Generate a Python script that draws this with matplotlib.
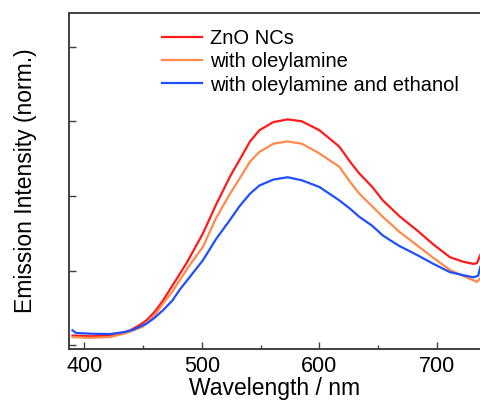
import numpy as np
import matplotlib.pyplot as plt

plt.rcParams['font.family'] = ['Liberation Sans', 'DejaVu Sans']

# wavelength (nm) and normalised emission
wl_red = [390, 405, 422, 432, 439, 446, 453, 460, 467, 475, 487, 494, 501, 512, 524, 532, 541, 549, 561, 573,
          585, 600, 617, 626, 634, 645, 654, 668, 683, 697, 711, 722, 731, 734, 737]
red = [0.13, 0.12, 0.13, 0.16, 0.20, 0.26, 0.335, 0.45, 0.60, 0.80, 1.10, 1.30, 1.50, 1.88, 2.26, 2.48, 2.73, 2.88,
       2.99, 3.025, 3.0, 2.88, 2.66, 2.46, 2.30, 2.12, 1.94, 1.73, 1.54, 1.35, 1.18, 1.12, 1.09, 1.10, 1.21]

wl_orange = [390, 405, 422, 435, 450, 460, 467, 475, 481, 490, 501, 512, 524, 532, 541, 549, 561, 573,
             585, 600, 617, 626, 634, 645, 654, 668, 683, 697, 711, 722, 731, 734, 737]
orange = [0.11, 0.10, 0.11, 0.16, 0.25, 0.40, 0.56, 0.72, 0.87, 1.08, 1.32, 1.70, 2.03, 2.23, 2.46, 2.59,
          2.70, 2.73, 2.70, 2.57, 2.39, 2.19, 2.03, 1.86, 1.72, 1.52, 1.34, 1.17, 1.01, 0.93, 0.87, 0.85, 0.90]

wl_blue = [390, 393, 405, 422, 435, 442, 453, 460, 467, 475, 481, 490, 501, 512, 524, 532, 541, 549, 561, 573,
           585, 600, 617, 626, 634, 645, 654, 668, 683, 697, 711, 722, 731, 735, 737]
blue = [0.20, 0.165, 0.155, 0.15, 0.18, 0.21, 0.29, 0.37, 0.47, 0.60, 0.74, 0.92, 1.14, 1.42, 1.68, 1.86, 2.03,
        2.14, 2.22, 2.25, 2.21, 2.12, 1.94, 1.83, 1.72, 1.60, 1.47, 1.33, 1.21, 1.09, 0.98, 0.94, 0.91, 0.93, 1.05]

labels = ['ZnO NCs', 'with oleylamine', 'with oleylamine and ethanol']
colors = ['#ff1a1a', '#ff8a4c', '#1f4fff']

fig = plt.figure(figsize=(4.81, 4.05), dpi=100)
ax = fig.add_axes([69/481, 56/405, 412/481, 336/405])

ax.plot(wl_red, red, color=colors[0], lw=1.6, label=labels[0])
ax.plot(wl_orange, orange, color=colors[1], lw=1.6, label=labels[1])
ax.plot(wl_blue, blue, color=colors[2], lw=1.6, label=labels[2])

ax.set_xlim(387, 737.5)
ax.set_ylim(-0.05, 4.45)
ax.set_xticks([400, 500, 600, 700])
ax.set_xticks([450, 550, 650], minor=True)
ax.set_yticks([0, 1, 2, 3, 4])
ax.set_yticklabels([])
ax.tick_params(axis='both', direction='in', length=5, width=1, color='#404040', labelsize=15.5, pad=5)
ax.tick_params(axis='x', which='minor', direction='in', length=3, width=1, color='#404040')
for s in ax.spines.values():
    s.set_color('#404040')
    s.set_linewidth(1.4)

ax.set_xlabel('Wavelength / nm', fontsize=16.5, labelpad=0)
ax.set_ylabel('Emission Intensity (norm.)', fontsize=16.5, labelpad=18)

ax.legend(loc='upper left', bbox_to_anchor=(0.205, 0.975), frameon=False, fontsize=14.5,
          handlelength=2.0, handletextpad=0.4, labelspacing=0.2, borderaxespad=0)

fig.savefig('out.png', dpi=100)
